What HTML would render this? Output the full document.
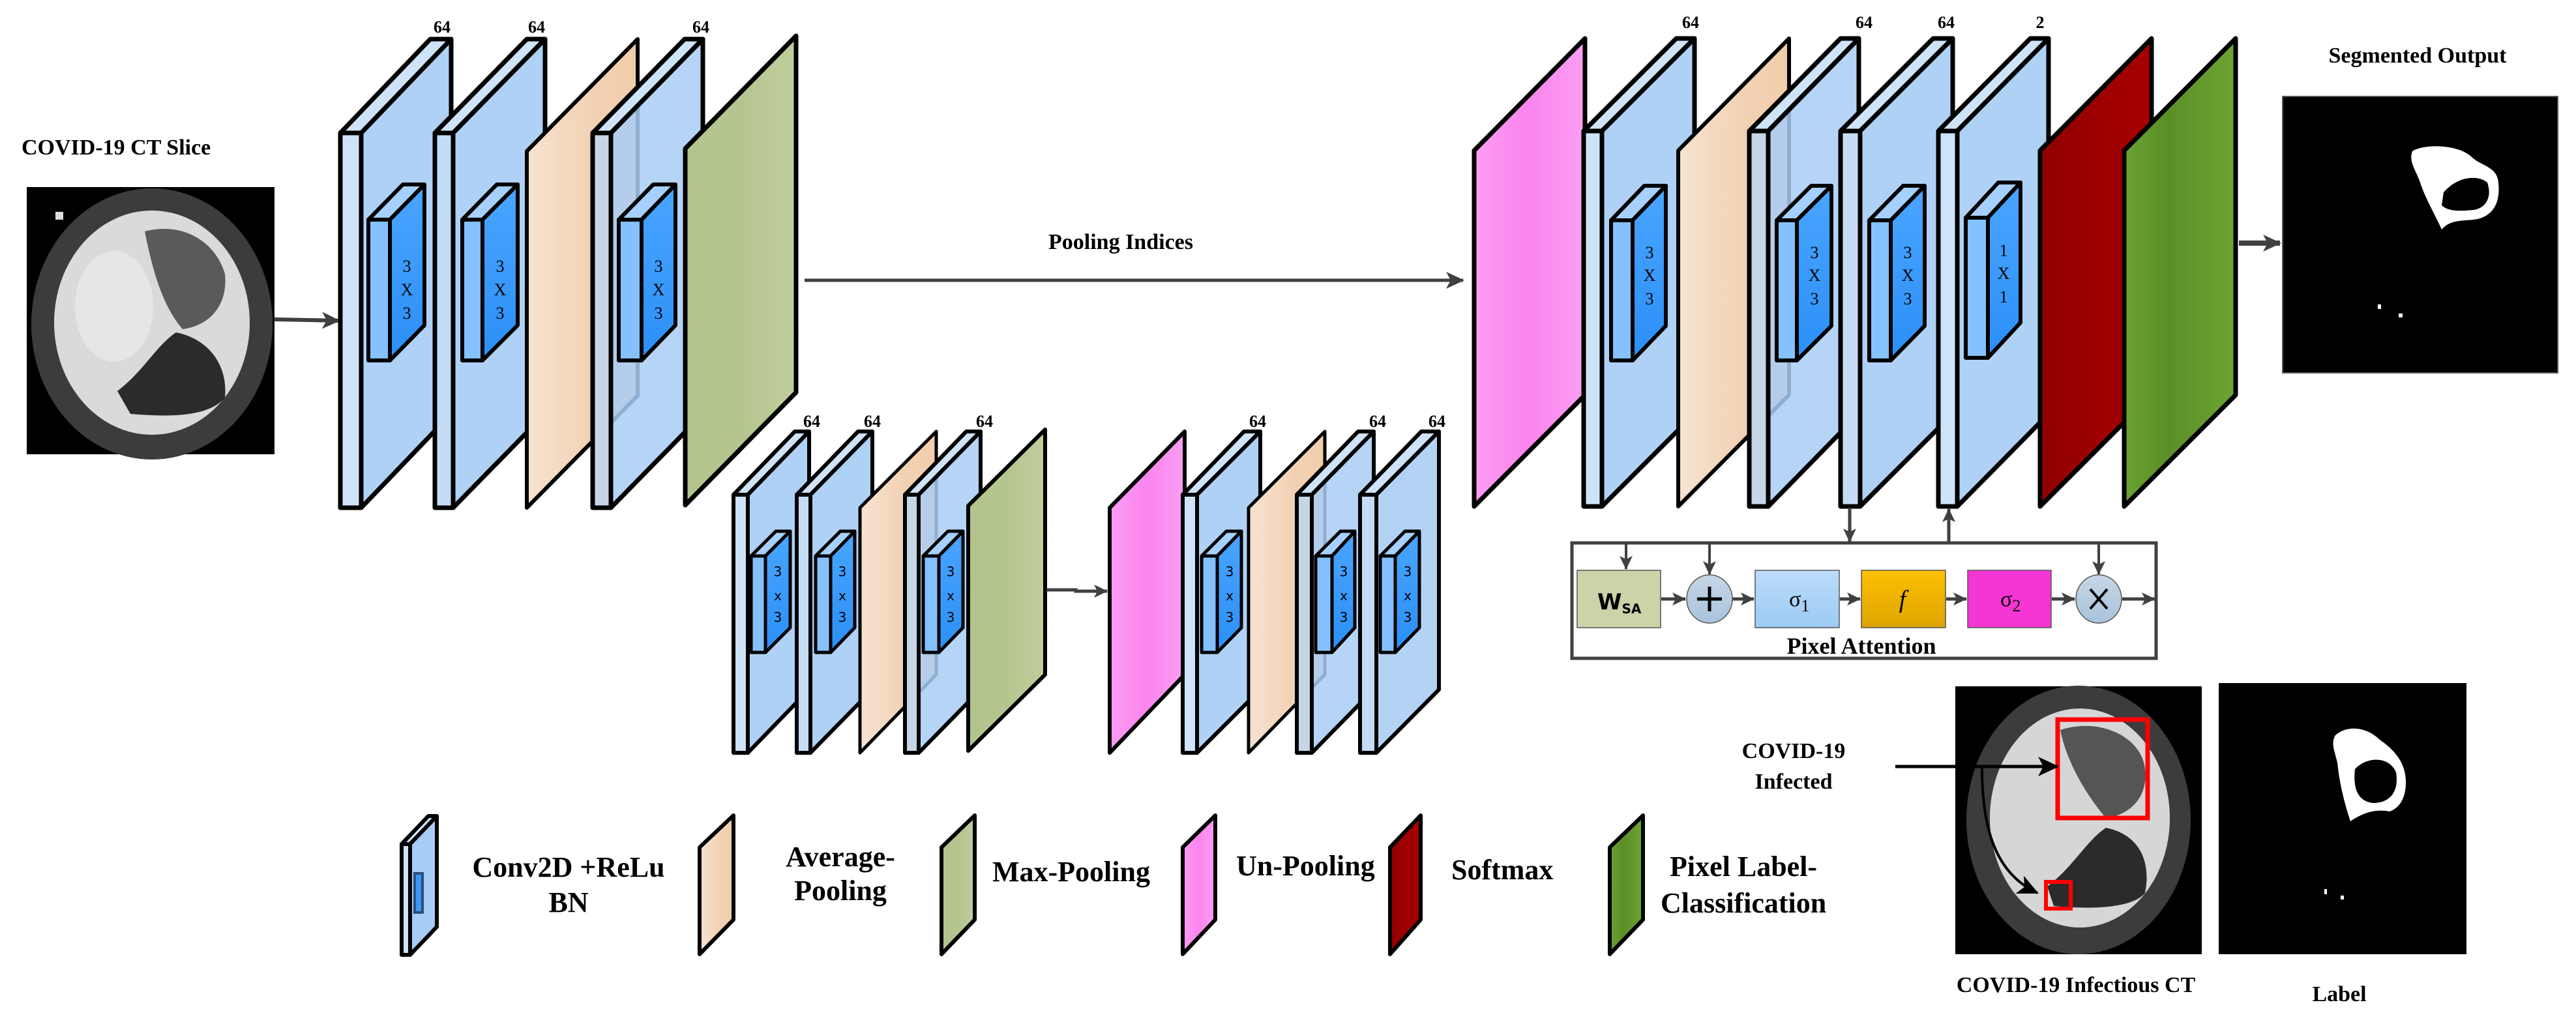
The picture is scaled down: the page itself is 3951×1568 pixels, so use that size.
<!DOCTYPE html>
<html><head><meta charset="utf-8"><style>
html,body{margin:0;padding:0;background:#fff}
svg{display:block}
</style></head><body>
<svg width="3951" height="1568" viewBox="0 0 3951 1568" xmlns="http://www.w3.org/2000/svg" font-family="'Liberation Serif', serif">
<defs>
<marker id="ah" markerUnits="userSpaceOnUse" markerWidth="30" markerHeight="30" refX="26" refY="15" orient="auto"><path d="M0,2 L28,15 L0,28 L7,15 Z" fill="#404040"/></marker>
<marker id="ahs" markerUnits="userSpaceOnUse" markerWidth="22" markerHeight="22" refX="20" refY="11" orient="auto"><path d="M0,1 L21,11 L0,21 L5,11 Z" fill="#404040"/></marker>
<marker id="ahb" markerUnits="userSpaceOnUse" markerWidth="34" markerHeight="34" refX="30" refY="17" orient="auto"><path d="M0,2 L32,17 L0,32 L8,17 Z" fill="#000"/></marker>
<linearGradient id="gOr" x1="0" y1="0" x2="1" y2="0"><stop offset="0" stop-color="#f6e3d2"/><stop offset="0.6" stop-color="#f2d1b3"/><stop offset="1" stop-color="#f1cdaa"/></linearGradient>
<linearGradient id="gGr" x1="0" y1="0" x2="1" y2="0"><stop offset="0" stop-color="#b3c48c"/><stop offset="0.5" stop-color="#b5c58f"/><stop offset="1" stop-color="#c0ce9c"/></linearGradient>
<linearGradient id="gPk" x1="0" y1="0" x2="1" y2="0"><stop offset="0" stop-color="#fc9cf2"/><stop offset="0.5" stop-color="#f985ee"/><stop offset="1" stop-color="#fb9ef3"/></linearGradient>
<linearGradient id="gRd" x1="0" y1="0" x2="1" y2="0"><stop offset="0" stop-color="#900000"/><stop offset="1" stop-color="#a80000"/></linearGradient>
<linearGradient id="gGn" x1="0" y1="0" x2="1" y2="0"><stop offset="0" stop-color="#6aa232"/><stop offset="0.4" stop-color="#5b8e28"/><stop offset="1" stop-color="#6ca532"/></linearGradient>
<linearGradient id="gK" x1="0" y1="0" x2="0" y2="1"><stop offset="0" stop-color="#4aa5ff"/><stop offset="1" stop-color="#2b8ff7"/></linearGradient>
<linearGradient id="gF" x1="0" y1="0" x2="0" y2="1"><stop offset="0" stop-color="#ffc000"/><stop offset="1" stop-color="#dca400"/></linearGradient>
<linearGradient id="gS1" x1="0" y1="0" x2="0" y2="1"><stop offset="0" stop-color="#bcdcf9"/><stop offset="1" stop-color="#9ccbf4"/></linearGradient>
<linearGradient id="gC" x1="0" y1="0" x2="0" y2="1"><stop offset="0" stop-color="#c6d6e6"/><stop offset="1" stop-color="#a9c3dc"/></linearGradient>
</defs>

<!-- Input CT -->
<text x="33" y="237" font-size="34" font-weight="bold" font-family="'Liberation Serif', serif">COVID-19 CT Slice</text>
<rect x="41" y="287" width="380" height="410" fill="#000"/>
<ellipse cx="233" cy="497" rx="185" ry="208" fill="#3c3c3c"/>
<ellipse cx="233" cy="495" rx="150" ry="172" fill="#dadada"/>
<path d="M222,355 C280,340 330,370 345,420 C350,470 320,500 280,505 C250,470 235,420 222,355 Z" fill="#5a5a5a"/>
<path d="M180,600 C220,570 240,530 270,510 C320,520 350,560 345,610 C320,640 260,640 200,635 Z" fill="#2b2b2b"/>
<ellipse cx="175" cy="470" rx="60" ry="85" fill="#e6e6e6"/>
<rect x="85" y="325" width="12" height="12" fill="#ddd"/>
<line x1="421" y1="490" x2="520" y2="492" stroke="#404040" stroke-width="6" marker-end="url(#ah)"/>

<g stroke="#000" stroke-width="7" stroke-linejoin="round">
<polygon points="522,204 660,60 692,60 554,204" fill="#cfe3f8"/>
<polygon points="554,204 692,60 692,635 554,779" fill="#a8cdf4" fill-opacity="0.92"/>
<rect x="522" y="204" width="32" height="575" fill="#cfe3f8"/>
<polygon points="565,337 618,283 651,283 598,337" fill="#a6d0ff" stroke-width="6"/>
<polygon points="598,337 651,283 651,499 598,553" fill="url(#gK)" stroke-width="6"/>
<rect x="565" y="337" width="33" height="216" fill="#85c1ff" stroke-width="6"/>

<polygon points="667,204 808,60 836,60 695,204" fill="#cfe3f8"/>
<polygon points="695,204 836,60 836,635 695,779" fill="#a8cdf4" fill-opacity="0.92"/>
<rect x="667" y="204" width="28" height="575" fill="#c5dcf6"/>
<polygon points="709,337 762,283 794,283 740,337" fill="#a6d0ff" stroke-width="6"/>
<polygon points="740,337 794,283 794,499 740,553" fill="url(#gK)" stroke-width="6"/>
<rect x="709" y="337" width="31" height="216" fill="#85c1ff" stroke-width="6"/>

<polygon points="808,232 978,60 978,607 808,779" fill="url(#gOr)" stroke-width="6"/>

<polygon points="909,204 1050,60 1078,60 937,204" fill="#cfe3f8"/>
<polygon points="937,204 1078,60 1078,635 937,779" fill="#a8cdf4" fill-opacity="0.85"/>
<rect x="909" y="204" width="28" height="575" fill="#c6d6e6"/>
<polygon points="949,337 1002,283 1036,283 984,337" fill="#a6d0ff" stroke-width="6"/>
<polygon points="984,337 1036,283 1036,499 984,553" fill="url(#gK)" stroke-width="6"/>
<rect x="949" y="337" width="35" height="216" fill="#85c1ff" stroke-width="6"/>

<polygon points="1051,228 1221,55 1221,602 1051,775" fill="url(#gGr)"/>

<g stroke-width="6">
<polygon points="1125,759 1219,662 1241,662 1147,759" fill="#cfe3f8"/>
<polygon points="1147,759 1241,662 1241,1058 1147,1155" fill="#a8cdf4" fill-opacity="0.92"/>
<rect x="1125" y="759" width="22" height="396" fill="#cfe3f8"/>
<polygon points="1152,853 1190,815 1212,815 1174,853" fill="#a6d0ff" stroke-width="5"/>
<polygon points="1174,853 1212,815 1212,963 1174,1001" fill="url(#gK)" stroke-width="5"/>
<rect x="1152" y="853" width="22" height="148" fill="#85c1ff" stroke-width="5"/>

<polygon points="1222,759 1316,662 1338,662 1243,759" fill="#cfe3f8"/>
<polygon points="1243,759 1338,662 1338,1058 1243,1155" fill="#a8cdf4" fill-opacity="0.92"/>
<rect x="1222" y="759" width="21" height="396" fill="#c5dcf6"/>
<polygon points="1251,853 1289,815 1311,815 1274,853" fill="#a6d0ff" stroke-width="5"/>
<polygon points="1274,853 1311,815 1311,963 1274,1001" fill="url(#gK)" stroke-width="5"/>
<rect x="1251" y="853" width="23" height="148" fill="#85c1ff" stroke-width="5"/>

<polygon points="1319,779 1436,662 1436,1035 1319,1155" fill="url(#gOr)" stroke-width="5"/>

<polygon points="1388,759 1482,662 1504,662 1409,759" fill="#cfe3f8"/>
<polygon points="1409,759 1504,662 1504,1058 1409,1155" fill="#a8cdf4" fill-opacity="0.85"/>
<rect x="1388" y="759" width="21" height="396" fill="#c6d6e6"/>
<polygon points="1416,853 1454,815 1477,815 1440,853" fill="#a6d0ff" stroke-width="5"/>
<polygon points="1440,853 1477,815 1477,963 1440,1001" fill="url(#gK)" stroke-width="5"/>
<rect x="1416" y="853" width="24" height="148" fill="#85c1ff" stroke-width="5"/>

<polygon points="1485,776 1603,659 1603,1035 1485,1152" fill="url(#gGr)"/>

<polygon points="1702,779 1817,662 1817,1035 1702,1155" fill="url(#gPk)"/>

<polygon points="1814,759 1908,662 1933,662 1836,759" fill="#cfe3f8"/>
<polygon points="1836,759 1933,662 1933,1058 1836,1155" fill="#a8cdf4" fill-opacity="0.92"/>
<rect x="1814" y="759" width="22" height="396" fill="#cfe3f8"/>
<polygon points="1843,853 1881,815 1904,815 1867,853" fill="#a6d0ff" stroke-width="5"/>
<polygon points="1867,853 1904,815 1904,963 1867,1001" fill="url(#gK)" stroke-width="5"/>
<rect x="1843" y="853" width="24" height="148" fill="#85c1ff" stroke-width="5"/>

<polygon points="1915,779 2032,662 2032,1035 1915,1155" fill="url(#gOr)" stroke-width="5"/>

<polygon points="1989,759 2083,662 2107,662 2012,759" fill="#cfe3f8"/>
<polygon points="2012,759 2107,662 2107,1058 2012,1155" fill="#a8cdf4" fill-opacity="0.85"/>
<rect x="1989" y="759" width="23" height="396" fill="#c6d6e6"/>
<polygon points="2018,853 2056,815 2078,815 2043,853" fill="#a6d0ff" stroke-width="5"/>
<polygon points="2043,853 2078,815 2078,963 2043,1001" fill="url(#gK)" stroke-width="5"/>
<rect x="2018" y="853" width="25" height="148" fill="#85c1ff" stroke-width="5"/>

<polygon points="2086,759 2180,662 2207,662 2111,759" fill="#cfe3f8"/>
<polygon points="2111,759 2207,662 2207,1058 2111,1155" fill="#a8cdf4" fill-opacity="0.88"/>
<rect x="2086" y="759" width="25" height="396" fill="#c5dcf6"/>
<polygon points="2117,853 2155,815 2177,815 2140,853" fill="#a6d0ff" stroke-width="5"/>
<polygon points="2140,853 2177,815 2177,963 2140,1001" fill="url(#gK)" stroke-width="5"/>
<rect x="2117" y="853" width="23" height="148" fill="#85c1ff" stroke-width="5"/>
</g>

<polygon points="2261,231 2431,59 2431,606 2261,777" fill="url(#gPk)"/>

<polygon points="2429,201 2571,59 2599,59 2457,201" fill="#cfe3f8"/>
<polygon points="2457,201 2599,59 2599,635 2457,777" fill="#a8cdf4" fill-opacity="0.92"/>
<rect x="2429" y="201" width="28" height="576" fill="#cfe3f8"/>
<polygon points="2471,338 2522,285 2555,285 2504,338" fill="#a6d0ff" stroke-width="6"/>
<polygon points="2504,338 2555,285 2555,500 2504,553" fill="url(#gK)" stroke-width="6"/>
<rect x="2471" y="338" width="33" height="215" fill="#85c1ff" stroke-width="6"/>

<polygon points="2574,231 2744,59 2744,606 2574,777" fill="url(#gOr)" stroke-width="6"/>

<polygon points="2683,201 2823,59 2851,59 2712,201" fill="#cfe3f8"/>
<polygon points="2712,201 2851,59 2851,635 2712,777" fill="#a8cdf4" fill-opacity="0.85"/>
<rect x="2683" y="201" width="29" height="576" fill="#c6d6e6"/>
<polygon points="2725,338 2778,285 2809,285 2756,338" fill="#a6d0ff" stroke-width="6"/>
<polygon points="2756,338 2809,285 2809,500 2756,553" fill="url(#gK)" stroke-width="6"/>
<rect x="2725" y="338" width="31" height="215" fill="#85c1ff" stroke-width="6"/>

<polygon points="2823,201 2965,59 2995,59 2853,201" fill="#cfe3f8"/>
<polygon points="2853,201 2995,59 2995,635 2853,777" fill="#a8cdf4" fill-opacity="0.92"/>
<rect x="2823" y="201" width="30" height="576" fill="#c5dcf6"/>
<polygon points="2867,338 2919,285 2952,285 2900,338" fill="#a6d0ff" stroke-width="6"/>
<polygon points="2900,338 2952,285 2952,500 2900,553" fill="url(#gK)" stroke-width="6"/>
<rect x="2867" y="338" width="33" height="215" fill="#85c1ff" stroke-width="6"/>

<polygon points="2973,201 3114,59 3142,59 3002,201" fill="#cfe3f8"/>
<polygon points="3002,201 3142,59 3142,635 3002,777" fill="#a8cdf4" fill-opacity="0.92"/>
<rect x="2973" y="201" width="29" height="576" fill="#cfe3f8"/>
<polygon points="3015,334 3065,280 3099,280 3049,334" fill="#a6d0ff" stroke-width="6"/>
<polygon points="3049,334 3099,280 3099,495 3049,549" fill="url(#gK)" stroke-width="6"/>
<rect x="3015" y="334" width="34" height="215" fill="#85c1ff" stroke-width="6"/>

<polygon points="3129,231 3300,59 3300,606 3129,777" fill="url(#gRd)"/>
<polygon points="3258,231 3429,59 3429,606 3258,777" fill="url(#gGn)"/>
</g>

<g font-size="26" text-anchor="middle" fill="#000" font-family="'Liberation Serif', serif">
<text x="624" y="417">3</text><text x="624" y="453">X</text><text x="624" y="489">3</text>
<text x="767" y="417">3</text><text x="767" y="453">X</text><text x="767" y="489">3</text>
<text x="1010" y="417">3</text><text x="1010" y="453">X</text><text x="1010" y="489">3</text>
<text x="2530" y="396">3</text><text x="2530" y="431">X</text><text x="2530" y="467">3</text>
<text x="2783" y="396">3</text><text x="2783" y="431">X</text><text x="2783" y="467">3</text>
<text x="2926" y="396">3</text><text x="2926" y="431">X</text><text x="2926" y="467">3</text>
<text x="3073" y="393">1</text><text x="3073" y="428">X</text><text x="3073" y="464">1</text>
</g>
<g font-size="20" text-anchor="middle" fill="#000" font-family="'DejaVu Sans', sans-serif">
<text x="1193" y="884">3</text><text x="1193" y="921">x</text><text x="1193" y="954">3</text>
<text x="1292" y="884">3</text><text x="1292" y="921">x</text><text x="1292" y="954">3</text>
<text x="1458" y="884">3</text><text x="1458" y="921">x</text><text x="1458" y="954">3</text>
<text x="1886" y="884">3</text><text x="1886" y="921">x</text><text x="1886" y="954">3</text>
<text x="2061" y="884">3</text><text x="2061" y="921">x</text><text x="2061" y="954">3</text>
<text x="2159" y="884">3</text><text x="2159" y="921">x</text><text x="2159" y="954">3</text>
</g>

<g font-size="26" font-weight="bold" text-anchor="middle" font-family="'Liberation Serif', serif">
<text x="678" y="50">64</text><text x="823" y="50">64</text><text x="1075" y="50">64</text>
<text x="1245" y="655">64</text><text x="1338" y="655">64</text><text x="1510" y="655">64</text>
<text x="1929" y="655">64</text><text x="2113" y="655">64</text><text x="2204" y="655">64</text>
<text x="2593" y="43">64</text><text x="2859" y="43">64</text><text x="2985" y="43">64</text><text x="3129" y="43">2</text>
</g>

<text x="1719" y="382" font-size="34" font-weight="bold" text-anchor="middle" font-family="'Liberation Serif', serif">Pooling Indices</text>
<line x1="1234" y1="430" x2="2244" y2="430" stroke="#404040" stroke-width="5" marker-end="url(#ah)"/>
<polyline points="1605,905 1650,905 1650,907 1698,907" fill="none" stroke="#404040" stroke-width="5" marker-end="url(#ahs)"/>

<line x1="3434" y1="373" x2="3497" y2="373" stroke="#404040" stroke-width="8" marker-end="url(#ah)"/>
<text x="3708" y="96" font-size="34" font-weight="bold" text-anchor="middle" font-family="'Liberation Serif', serif">Segmented Output</text>
<rect x="3501" y="148" width="422" height="424" fill="#000" stroke="#555" stroke-width="2"/>
<path d="M3700,232 C3720,220 3770,222 3790,240 C3805,255 3830,255 3832,280 C3835,310 3825,330 3800,336 C3780,340 3760,335 3745,352 C3735,330 3718,300 3712,280 C3705,260 3694,248 3700,232 Z" fill="#fff"/>
<path d="M3748,295 C3770,270 3800,268 3815,280 C3822,300 3815,318 3795,322 C3775,324 3755,325 3745,315 Z" fill="#000"/>
<rect x="3647" y="467" width="5" height="7" fill="#fff"/><rect x="3679" y="481" width="6" height="6" fill="#fff"/>

<line x1="2837" y1="779" x2="2837" y2="831" stroke="#404040" stroke-width="5" marker-end="url(#ahs)"/>
<line x1="2989" y1="833" x2="2989" y2="781" stroke="#404040" stroke-width="5" marker-end="url(#ahs)"/>
<rect x="2411" y="833" width="896" height="177" fill="#fff" stroke="#404040" stroke-width="5"/>
<g stroke="#404040" stroke-width="4">
<line x1="2494" y1="834" x2="2494" y2="873" marker-end="url(#ahs)"/>
<line x1="2622" y1="834" x2="2622" y2="881" marker-end="url(#ahs)"/>
<line x1="3219" y1="834" x2="3219" y2="881" marker-end="url(#ahs)"/>
<line x1="2548" y1="919" x2="2585" y2="919" stroke-width="5" marker-end="url(#ahs)"/>
<line x1="2657" y1="919" x2="2690" y2="919" stroke-width="5" marker-end="url(#ahs)"/>
<line x1="2822" y1="919" x2="2853" y2="919" stroke-width="5" marker-end="url(#ahs)"/>
<line x1="2985" y1="919" x2="3016" y2="919" stroke-width="5" marker-end="url(#ahs)"/>
<line x1="3147" y1="919" x2="3182" y2="919" stroke-width="5" marker-end="url(#ahs)"/>
<line x1="3255" y1="919" x2="3305" y2="919" stroke-width="5" marker-end="url(#ahs)"/>
</g>
<g stroke="#555" stroke-width="1.5">
<rect x="2419" y="875" width="128" height="88" fill="#cbd4a8"/>
<ellipse cx="2622" cy="919" rx="35" ry="37" fill="url(#gC)"/>
<rect x="2692" y="875" width="129" height="88" fill="url(#gS1)"/>
<rect x="2855" y="875" width="129" height="88" fill="url(#gF)"/>
<rect x="3018" y="875" width="128" height="88" fill="#f535d4"/>
<ellipse cx="3219" cy="919" rx="35" ry="37" fill="url(#gC)"/>
</g>
<text x="2450" y="935" font-size="34" font-weight="bold" font-family="'DejaVu Sans', sans-serif">W<tspan font-size="20" dy="6">SA</tspan></text>
<line x1="2622" y1="900" x2="2622" y2="938" stroke="#000" stroke-width="5"/><line x1="2603" y1="919" x2="2641" y2="919" stroke="#000" stroke-width="5"/>
<line x1="3206" y1="904" x2="3232" y2="934" stroke="#000" stroke-width="4"/><line x1="3232" y1="904" x2="3206" y2="934" stroke="#000" stroke-width="4"/>
<text x="2744" y="930" font-size="34" font-family="'Liberation Serif', serif">σ<tspan font-size="26" dy="8">1</tspan></text>
<text x="2918" y="932" font-size="38" font-style="italic" text-anchor="middle" font-family="'Liberation Serif', serif">f</text>
<text x="3068" y="930" font-size="34" font-family="'Liberation Serif', serif">σ<tspan font-size="26" dy="8">2</tspan></text>
<text x="2855" y="1003" font-size="36" font-weight="bold" text-anchor="middle" font-family="'Liberation Serif', serif">Pixel Attention</text>

<g stroke="#000" stroke-width="6" stroke-linejoin="round">
<polygon points="616,1295 657,1252 670,1252 629,1295" fill="#cfe3f8"/>
<polygon points="629,1295 670,1252 670,1422 629,1465" fill="#a8cdf4"/>
<rect x="616" y="1295" width="13" height="170" fill="#cfe3f8"/>
<polygon points="1073,1300 1125,1251 1125,1411 1073,1464" fill="url(#gOr)"/>
<polygon points="1444,1300 1495,1251 1495,1411 1444,1464" fill="url(#gGr)"/>
<polygon points="1814,1300 1864,1251 1864,1411 1814,1464" fill="url(#gPk)"/>
<polygon points="2132,1300 2179,1251 2179,1411 2132,1464" fill="url(#gRd)"/>
<polygon points="2469,1300 2520,1251 2520,1411 2469,1464" fill="url(#gGn)"/>
</g>
<rect x="636" y="1340" width="12" height="60" fill="#3e95f5" stroke="#2a4f7a" stroke-width="4"/>
<g font-size="44" font-weight="bold" font-family="'Liberation Serif', serif">
<text x="872" y="1345" text-anchor="middle">Conv2D +ReLu</text>
<text x="872" y="1399" text-anchor="middle">BN</text>
<text x="1289" y="1329" text-anchor="middle">Average-</text>
<text x="1289" y="1381" text-anchor="middle">Pooling</text>
<text x="1522" y="1352">Max-Pooling</text>
<text x="1896" y="1343">Un-Pooling</text>
<text x="2226" y="1349">Softmax</text>
<text x="2561" y="1344">Pixel Label-</text>
<text x="2547" y="1400">Classification</text>
</g>

<rect x="2999" y="1053" width="378" height="411" fill="#000"/>
<ellipse cx="3188" cy="1258" rx="172" ry="206" fill="#3c3c3c"/>
<ellipse cx="3190" cy="1255" rx="138" ry="168" fill="#d6d6d6"/>
<path d="M3160,1120 C3220,1100 3285,1130 3290,1180 C3295,1220 3270,1250 3230,1255 C3200,1220 3170,1170 3160,1120 Z" fill="#555"/>
<path d="M3140,1360 C3180,1330 3200,1290 3230,1270 C3280,1280 3300,1320 3290,1370 C3270,1395 3200,1395 3150,1390 Z" fill="#2b2b2b"/>
<rect x="3156" y="1104" width="138" height="151" fill="none" stroke="#f00" stroke-width="7"/>
<rect x="3138" y="1353" width="38" height="41" fill="none" stroke="#f00" stroke-width="6"/>
<text x="2751" y="1163" font-size="34" font-weight="bold" text-anchor="middle" font-family="'Liberation Serif', serif">COVID-19</text>
<text x="2751" y="1210" font-size="34" font-weight="bold" text-anchor="middle" font-family="'Liberation Serif', serif">Infected</text>
<line x1="2907" y1="1176" x2="3156" y2="1176" stroke="#000" stroke-width="5" marker-end="url(#ahb)"/>
<path d="M3040,1178 C3040,1270 3060,1340 3125,1370" fill="none" stroke="#000" stroke-width="4" marker-end="url(#ahb)"/>
<text x="3184" y="1522" font-size="34" font-weight="bold" text-anchor="middle" font-family="'Liberation Serif', serif">COVID-19 Infectious CT</text>

<rect x="3403" y="1048" width="380" height="416" fill="#000"/>
<path d="M3582,1128 C3600,1112 3630,1115 3650,1135 C3672,1150 3690,1170 3690,1200 C3690,1225 3680,1240 3665,1245 C3640,1240 3620,1250 3605,1260 C3595,1230 3588,1200 3585,1170 C3580,1150 3575,1140 3582,1128 Z" fill="#fff"/>
<path d="M3612,1180 C3630,1160 3665,1160 3675,1185 C3680,1215 3665,1232 3640,1232 C3620,1230 3608,1215 3612,1180 Z" fill="#000"/>
<rect x="3565" y="1364" width="4" height="8" fill="#fff"/><rect x="3590" y="1374" width="5" height="6" fill="#fff"/>
<text x="3588" y="1536" font-size="34" font-weight="bold" text-anchor="middle" font-family="'Liberation Serif', serif">Label</text>
</svg>
</body></html>
